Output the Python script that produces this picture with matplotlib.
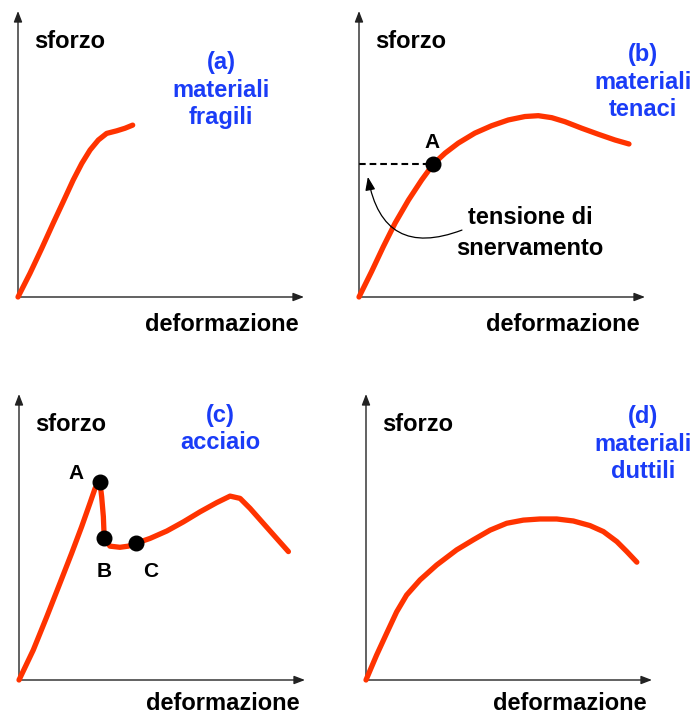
import matplotlib.pyplot as plt

# panel (a) materiali fragili
strain_a = [0, 0.42, 0.83, 1.23, 1.58, 1.93, 2.23, 2.52, 2.81, 3.10, 3.45, 3.74, 4.01]
stress_a = [0, 0.83, 1.70, 2.58, 3.33, 4.09, 4.67, 5.14, 5.49, 5.72, 5.81, 5.90, 6.01]

# panel (b) materiali tenaci
strain_b = [0, 0.44, 0.85, 1.26, 1.73, 2.19, 2.60, 3.01, 3.47, 4.05, 4.64, 5.22,
            5.80, 6.27, 6.74, 7.20, 7.79, 8.37, 8.95, 9.44]
stress_b = [0, 0.89, 1.76, 2.58, 3.39, 4.09, 4.65, 5.03, 5.38, 5.73, 5.99, 6.19,
            6.31, 6.34, 6.27, 6.13, 5.90, 5.69, 5.49, 5.35]
yield_b = (2.60, 4.65)

# panel (c) acciaio
strain_c = [0, 0.50, 0.97, 1.43, 1.84, 2.19, 2.48, 2.66, 2.83, 2.89, 2.95, 2.98,
            3.18, 3.53, 3.82, 4.09, 4.58, 5.17, 5.75, 6.33, 6.91, 7.38, 7.73,
            8.08, 8.54, 9.01, 9.42]
stress_c = [0, 1.05, 2.21, 3.38, 4.43, 5.36, 6.18, 6.70, 6.91, 6.41, 5.71, 4.95,
            4.68, 4.64, 4.68, 4.78, 4.95, 5.21, 5.53, 5.88, 6.20, 6.43, 6.35,
            6.00, 5.48, 4.95, 4.49]
points_c = ['A', 'B', 'C']
points_c_x = [2.83, 2.98, 4.09]
points_c_y = [6.91, 4.95, 4.78]

# panel (d) materiali duttili
strain_d = [0, 0.37, 0.72, 1.07, 1.42, 1.89, 2.47, 3.17, 3.75, 4.34, 4.92, 5.50,
            6.08, 6.67, 7.25, 7.83, 8.30, 8.77, 9.12, 9.47]
stress_d = [0, 0.87, 1.63, 2.38, 2.97, 3.50, 4.02, 4.55, 4.90, 5.24, 5.48, 5.59,
            5.63, 5.63, 5.56, 5.40, 5.19, 4.84, 4.49, 4.12]

titles = [['(a)', 'materiali', 'fragili'],
          ['(b)', 'materiali', 'tenaci'],
          ['(c)', 'acciaio'],
          ['(d)', 'materiali', 'duttili']]

plt.rcParams['font.family'] = ['Liberation Sans', 'DejaVu Sans']
plt.rcParams['font.weight'] = 'bold'

RED = '#ff3300'
BLUE = '#1a3cf7'
W, H = 695, 717
U = 28.6
FS = 17

fig = plt.figure(figsize=(6.95, 7.17), dpi=100)


def panel(ox, oy, title, tx, ty, xlab_y):
    ax = fig.add_axes([ox / W, 1 - oy / H, 10 * U / W, 10 * U / H])
    ax.set_xlim(0, 10)
    ax.set_ylim(0, 10)
    ax.axis('off')
    arrow = dict(arrowstyle='-|>,head_length=0.65,head_width=0.25', color='#222222',
                 lw=1.0, shrinkA=0, shrinkB=0, mutation_scale=10)
    ax.annotate('', xy=(10, 0), xytext=(0, 0), arrowprops=arrow, annotation_clip=False)
    ax.annotate('', xy=(0, 10), xytext=(0, 0), arrowprops=arrow, annotation_clip=False)
    ax.text(0.55, 8.72, 'sforzo', fontsize=FS, ha='left', va='baseline')
    ax.text(9.8, xlab_y, 'deformazione', fontsize=FS, ha='right', va='baseline',
            clip_on=False)
    for i, t in enumerate(title):
        ax.text(tx, ty - i * 0.96, t, fontsize=FS, color=BLUE, ha='center',
                va='baseline', clip_on=False)
    return ax


def curve(ax, x, y):
    ax.plot(x, y, color=RED, lw=3.8, solid_capstyle='round',
            solid_joinstyle='round', clip_on=False, zorder=3)


ax_a = panel(18, 297, titles[0], 7.10, 7.96, -1.2)
curve(ax_a, strain_a, stress_a)

ax_b = panel(359, 297, titles[1], 9.93, 8.24, -1.2)
curve(ax_b, strain_b, stress_b)
ax_b.plot([0, yield_b[0]], [yield_b[1], yield_b[1]], color='black', lw=1.5,
          dashes=(3.2, 1.9), zorder=2)
ax_b.plot(*yield_b, 'o', color='black', ms=10.5, zorder=4)
ax_b.text(2.57, 5.20, 'A', fontsize=15, ha='center', va='baseline')
ax_b.text(5.98, 2.55, 'tensione di', fontsize=FS, ha='center', va='baseline')
ax_b.text(5.98, 1.47, 'snervamento', fontsize=FS, ha='center', va='baseline')
ax_b.annotate('', xy=(0.31, 4.20), xytext=(3.60, 2.34),
              arrowprops=dict(arrowstyle='-|>,head_length=0.8,head_width=0.3',
                              connectionstyle='arc3,rad=-0.6', color='black',
                              lw=0.9, shrinkA=0, shrinkB=0, mutation_scale=10))

ax_c = panel(19, 680, titles[2], 7.03, 9.03, -1.06)
curve(ax_c, strain_c, stress_c)
ax_c.plot(points_c_x, points_c_y, 'o', color='black', ms=10.5, zorder=4)
ax_c.text(1.99, 7.02, points_c[0], fontsize=15, ha='center', va='baseline')
ax_c.text(2.97, 3.61, points_c[1], fontsize=15, ha='center', va='baseline')
ax_c.text(4.62, 3.61, points_c[2], fontsize=15, ha='center', va='baseline')

ax_d = panel(366, 680, titles[3], 9.69, 8.98, -1.06)
curve(ax_d, strain_d, stress_d)

fig.savefig('out.png', dpi=100)
